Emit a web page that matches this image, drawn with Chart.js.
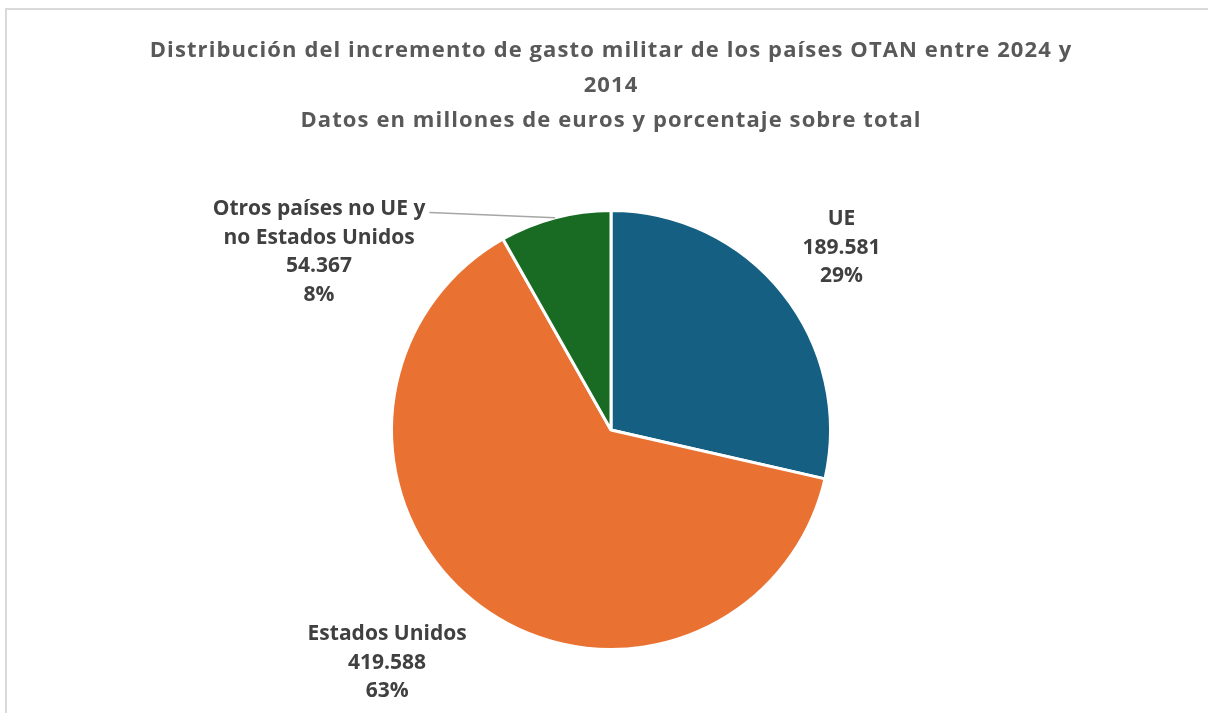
<!DOCTYPE html>
<html lang="es">
<head>
<meta charset="utf-8">
<title>Distribución del incremento de gasto militar OTAN</title>
<script src="https://cdn.jsdelivr.net/npm/chart.js@4.4.1/dist/chart.umd.min.js"></script>
<style>
    html, body { margin: 0; padding: 0; background: #fff; }
    #frame {
        position: absolute; left: 5px; top: 8px; right: 0; bottom: -20px;
        border-left: 2px solid #d9d9d9; border-top: 2px solid #d9d9d9;
    }
    #wrap { position: absolute; left: 0; top: 0; width: 1208px; height: 713px; }
</style>
</head>
<body>
<div id="frame"></div>
<div id="wrap"><canvas id="pieChart" width="1208" height="713"></canvas></div>
<script>
// Data
const categories = ["UE", "Estados Unidos", "Otros países no UE y no Estados Unidos"];
const labelLines = [["UE"], ["Estados Unidos"], ["Otros países no UE y", "no Estados Unidos"]];
const values = [189581, 419588, 54367];
const percents = ["29%", "63%", "8%"];
const valueLabels = ["189.581", "419.588", "54.367"];
const titleLines = [
    "Distribución del incremento de gasto militar de los países OTAN entre 2024 y",
    "2014",
    "Datos en millones de euros y porcentaje sobre total"
];

const sliceColors = ["#156082", "#E97132", "#196B24"];
const FONT = "'Open Sans', Roboto, sans-serif";

// label anchor, in units of the pie radius from its centre
const labelAnchor = [[1.05, -0.83], [-1.02, 1.06], [-1.33, -0.81]];

const titlePlugin = {
    id: "excelTitle",
    afterDraw(chart) {
        const ctx = chart.ctx;
        const cx = (chart.chartArea.left + chart.chartArea.right) / 2;
        ctx.save();
        ctx.fillStyle = "#595959";
        ctx.font = "bold 22px " + FONT;
        ctx.letterSpacing = "1.1px";
        ctx.textAlign = "center";
        ctx.textBaseline = "middle";
        titleLines.forEach((t, i) => ctx.fillText(t, cx, 51 + i * 35));
        ctx.restore();
    }
};

const labelPlugin = {
    id: "sliceLabels",
    afterDatasetsDraw(chart) {
        const ctx = chart.ctx;
        const arcs = chart.getDatasetMeta(0).data;
        ctx.save();
        ctx.font = "bold 21px " + FONT;
        ctx.fillStyle = "#404040";
        ctx.textAlign = "center";
        ctx.textBaseline = "middle";
        arcs.forEach((arc, i) => {
            const { x, y, outerRadius, startAngle, endAngle } = arc.getProps(["x", "y", "outerRadius", "startAngle", "endAngle"], true);
            const lx = x + labelAnchor[i][0] * outerRadius;
            const ly = y + labelAnchor[i][1] * outerRadius;
            const lines = labelLines[i].concat([valueLabels[i], percents[i]]);
            const lh = 28.5;
            const top = ly - (lines.length - 1) * lh / 2;
            lines.forEach((t, j) => ctx.fillText(t, lx, top + j * lh));
            if (i === 2) {
                // leader line from the first text line to the slice edge
                const mid = (startAngle + endAngle) / 2;
                const w = ctx.measureText(lines[0]).width;
                ctx.strokeStyle = "#a6a6a6";
                ctx.lineWidth = 1.5;
                ctx.beginPath();
                ctx.moveTo(lx + w / 2 + 4, top + 3);
                ctx.lineTo(x + Math.cos(mid) * outerRadius, y + Math.sin(mid) * outerRadius);
                ctx.stroke();
            }
        });
        ctx.restore();
    }
};

new Chart(document.getElementById("pieChart").getContext("2d"), {
    type: "pie",
    data: {
        labels: categories,
        datasets: [{
            data: values,
            backgroundColor: sliceColors,
            borderColor: "#ffffff",
            borderWidth: 3,
            hoverOffset: 0
        }]
    },
    options: {
        responsive: false,
        animation: false,
        layout: { padding: { top: 209, bottom: 62, left: 390, right: 376 } },
        plugins: {
            legend: { display: false },
            title: { display: false },
            tooltip: { enabled: false }
        }
    },
    plugins: [titlePlugin, labelPlugin]
});
</script>
</body>
</html>
